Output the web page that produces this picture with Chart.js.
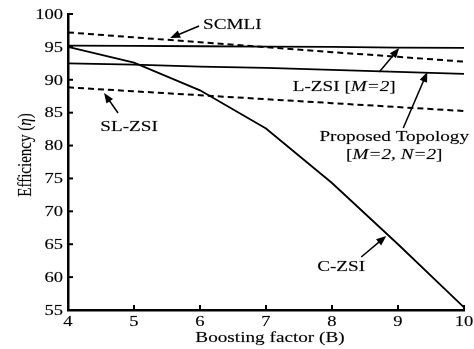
<!DOCTYPE html>
<html><head><meta charset="utf-8">
<script src="https://cdn.jsdelivr.net/npm/chart.js@4/dist/chart.umd.min.js"></script>
<style>html,body{margin:0;padding:0;background:#fff}#wrap{width:474px;height:349px}</style>
</head><body><div id="wrap"><canvas id="c" width="474" height="349"></canvas></div>
<script>
// Efficiency versus boosting factor for five inverter topologies
const boost = [4, 5, 6, 7, 8, 9, 10];
const scmli = [97.2, 96.45, 95.7, 94.95, 94.2, 93.5, 92.75];
const lzsi = [95.2, 95.15, 95.1, 95.05, 95.0, 94.9, 94.85];
const proposed = [92.5, 92.3, 92.0, 91.8, 91.5, 91.2, 90.9];
const slzsi = [88.85, 88.25, 87.65, 87.05, 86.45, 85.85, 85.25];
const czsi = [95.0, 92.6, 88.4, 82.6, 74.3, 65.0, 55.4];

const xTicks = [4, 5, 6, 7, 8, 9, 10];
const yTicks = [55, 60, 65, 70, 75, 80, 85, 90, 95, 100];

// Callout labels: text anchor and arrow (tail -> tip), in data units
const callouts = [
  { lines: [[['SCMLI', false]]], at: [6.49, 98.33], tail: [5.986, 98.18], tip: [5.547, 96.35] },
  { lines: [[['L-ZSI [', false], ['M=2', true], [']', false]]], at: [8.185, 88.9], tail: [8.716, 91.18], tip: [9.019, 94.83] },
  { lines: [[['Proposed Topology', false]], [['[', false], ['M=2, N=2', true], [']', false]]], at: [8.943, 81.3], tail: [9.08, 82.67], tip: [9.444, 91.18] },
  { lines: [[['SL-ZSI', false]]], at: [4.925, 82.82], tail: [4.758, 84.95], tip: [4.546, 87.99] },
  { lines: [[['C-ZSI', false]]], at: [8.139, 61.54], tail: [8.443, 63.06], tip: [8.822, 66.25] }
];

const FONT = '"Liberation Serif", "Times New Roman", serif';
const SX = 1.28; // horizontal widening of lettering

function toPts(ys) { return boost.map((b, i) => ({ x: b, y: ys[i] })); }

function drawRich(ctx, parts, x, y, align, size, rotate) {
  ctx.save();
  ctx.translate(x, y);
  if (rotate) { ctx.rotate(-Math.PI / 2); ctx.scale(1, SX); } else { ctx.scale(SX, 1); }
  const fonts = parts.map(p => (p[1] ? 'italic ' : '') + size + 'px ' + FONT);
  let w = 0;
  parts.forEach((p, i) => { ctx.font = fonts[i]; w += ctx.measureText(p[0]).width; });
  let cx = align === 'center' ? -w / 2 : align === 'right' ? -w : 0;
  ctx.textBaseline = 'middle';
  ctx.textAlign = 'left';
  ctx.fillStyle = '#000';
  ctx.strokeStyle = 'rgba(0,0,0,0.35)';
  ctx.lineWidth = 0.4;
  parts.forEach((p, i) => {
    ctx.font = fonts[i];
    ctx.fillText(p[0], cx, 0);
    ctx.strokeText(p[0], cx, 0);
    cx += ctx.measureText(p[0]).width;
  });
  ctx.restore();
}

function arrow(ctx, x1, y1, x2, y2) {
  const a = Math.atan2(y2 - y1, x2 - x1);
  const L = 10, H = 4;
  ctx.save();
  ctx.strokeStyle = '#000';
  ctx.fillStyle = '#000';
  ctx.lineWidth = 1.5;
  ctx.beginPath();
  ctx.moveTo(x1, y1);
  ctx.lineTo(x2 - Math.cos(a) * L * 0.8, y2 - Math.sin(a) * L * 0.8);
  ctx.stroke();
  ctx.beginPath();
  ctx.moveTo(x2, y2);
  ctx.lineTo(x2 - Math.cos(a) * L + Math.sin(a) * H, y2 - Math.sin(a) * L - Math.cos(a) * H);
  ctx.lineTo(x2 - Math.cos(a) * L - Math.sin(a) * H, y2 - Math.sin(a) * L + Math.cos(a) * H);
  ctx.closePath();
  ctx.fill();
  ctx.restore();
}

const decor = {
  id: 'decor',
  afterDraw(chart) {
    const ctx = chart.ctx;
    const xs = chart.scales.x, ys = chart.scales.y;
    const area = chart.chartArea;
    ctx.save();
    // inward tick marks
    ctx.strokeStyle = '#000';
    ctx.lineWidth = 2;
    ys.ticks.forEach(t => {
      const p = ys.getPixelForValue(t.value);
      ctx.beginPath(); ctx.moveTo(area.left, p); ctx.lineTo(area.left + 5, p); ctx.stroke();
    });
    xs.ticks.forEach(t => {
      const p = xs.getPixelForValue(t.value);
      ctx.beginPath(); ctx.moveTo(p, area.bottom); ctx.lineTo(p, area.bottom - 5); ctx.stroke();
    });
    // tick labels
    ys.ticks.forEach(t => {
      drawRich(ctx, [[String(t.value), false]], area.left - 5, ys.getPixelForValue(t.value) + 1, 'right', 14.5);
    });
    xs.ticks.forEach(t => {
      drawRich(ctx, [[String(t.value), false]], xs.getPixelForValue(t.value), area.bottom + 12, 'center', 14.5);
    });
    // axis titles
    drawRich(ctx, [['Boosting factor (B)', false]], (area.left + area.right) / 2 + 4, area.bottom + 28, 'center', 15);
    drawRich(ctx, [['Efficiency (', false], ['\u03B7', true], [')', false]], 26, area.top + 141, 'center', 15, true);
    // callouts
    callouts.forEach(c => {
      const tx = xs.getPixelForValue(c.at[0]), ty = ys.getPixelForValue(c.at[1]);
      c.lines.forEach((ln, i) => drawRich(ctx, ln, tx, ty + i * 18, 'center', 15));
      arrow(ctx, xs.getPixelForValue(c.tail[0]), ys.getPixelForValue(c.tail[1]),
        xs.getPixelForValue(c.tip[0]), ys.getPixelForValue(c.tip[1]));
    });
    ctx.restore();
  }
};

function series(label, ys, dashed) {
  return {
    label, data: toPts(ys), borderColor: '#000', borderWidth: dashed ? 2 : 1.8,
    borderDash: dashed ? [6, 4] : [], pointRadius: 0, tension: 0, fill: false, clip: false
  };
}

new Chart(document.getElementById('c'), {
  type: 'line',
  data: {
    datasets: [
      series('SCMLI', scmli, true),
      series('L-ZSI [M=2]', lzsi, false),
      series('Proposed Topology [M=2, N=2]', proposed, false),
      series('SL-ZSI', slzsi, true),
      series('C-ZSI', czsi, false)
    ]
  },
  options: {
    responsive: false,
    animation: false,
    devicePixelRatio: 1,
    layout: { padding: { top: 14, right: 10, left: 0, bottom: 0 } },
    plugins: { legend: { display: false }, tooltip: { enabled: false } },
    scales: {
      x: {
        type: 'linear', min: 4, max: 10,
        afterBuildTicks: s => { s.ticks = xTicks.map(v => ({ value: v })); },
        afterFit: s => { s.height = 39; },
        ticks: { display: false },
        grid: { display: false },
        border: { display: true, color: '#000', width: 2.5 }
      },
      y: {
        type: 'linear', min: 55, max: 100,
        afterBuildTicks: s => { s.ticks = yTicks.map(v => ({ value: v })); },
        afterFit: s => { s.width = 68; },
        ticks: { display: false },
        grid: { display: false },
        border: { display: true, color: '#000', width: 2.5 }
      }
    }
  },
  plugins: [decor]
});
</script>
</body></html>
